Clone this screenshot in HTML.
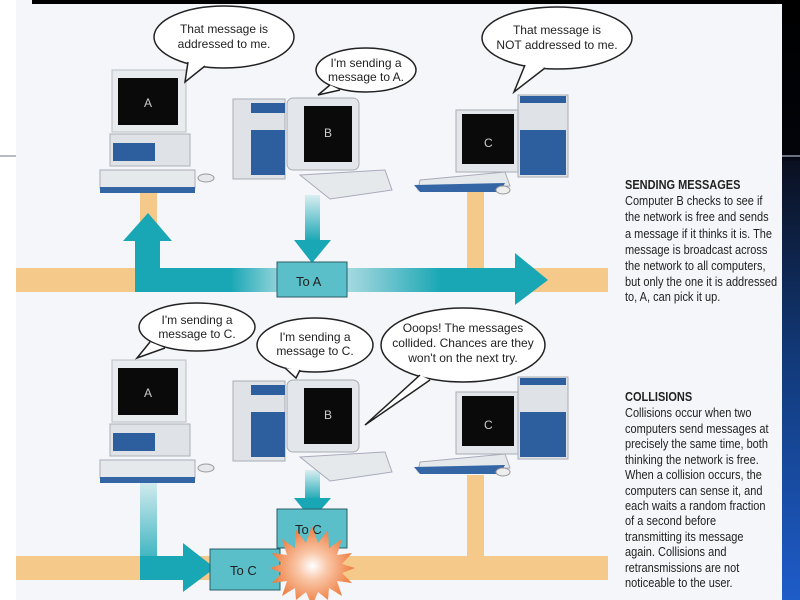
<!DOCTYPE html>
<html><head><meta charset="utf-8"><style>
html,body{margin:0;padding:0;background:#fff}
svg{display:block}
text{font-family:"Liberation Sans",sans-serif;fill:#222}
</style></head><body>
<svg width="800" height="600" viewBox="0 0 800 600" xmlns="http://www.w3.org/2000/svg">
<defs>
<linearGradient id="side" x1="0" y1="0" x2="0" y2="1">
<stop offset="0" stop-color="#000"/><stop offset="0.26" stop-color="#02040a"/><stop offset="0.27" stop-color="#0a1020"/><stop offset="0.6" stop-color="#123a7a"/><stop offset="1" stop-color="#1e5cc8"/></linearGradient>
<linearGradient id="hfade" x1="0" y1="0" x2="1" y2="0">
<stop offset="0" stop-color="#1aa7b5"/><stop offset="0.25" stop-color="#1aa7b5"/><stop offset="0.45" stop-color="#d9eef1"/><stop offset="0.6" stop-color="#8fd0d8"/><stop offset="0.8" stop-color="#1aa7b5"/><stop offset="1" stop-color="#1aa7b5"/></linearGradient>
<linearGradient id="vfade" x1="0" y1="0" x2="0" y2="1">
<stop offset="0" stop-color="#d9eef1"/><stop offset="1" stop-color="#1aa7b5"/></linearGradient>
<radialGradient id="burst"><stop offset="0" stop-color="#fff"/><stop offset="0.35" stop-color="#f9c7a8"/><stop offset="1" stop-color="#ee7a3c"/></radialGradient>
<g id="compA">
<rect x="112" y="70" width="74" height="62" fill="#e9ecef" stroke="#b9bec4"/>
<rect x="118" y="78" width="60" height="47" fill="#0a0a0a"/>
<text x="144" y="107" font-size="12" style="fill:#ccc">A</text>
<rect x="110" y="134" width="80" height="32" fill="#dfe3e8" stroke="#aab0b6"/>
<rect x="113" y="143" width="42" height="18" fill="#2d5e9e"/>
<rect x="100" y="170" width="95" height="18" fill="#e6e9ec" stroke="#aab"/>
<rect x="100" y="187" width="95" height="6" fill="#3466a6"/>
<ellipse cx="206" cy="178" rx="8" ry="4" fill="#e6e9ec" stroke="#999"/>
</g>
<g id="compB">
<rect x="233" y="99" width="52" height="80" fill="#dfe3e8" stroke="#a8aeb4"/>
<rect x="251" y="103" width="34" height="10" fill="#2d5e9e"/>
<rect x="251" y="130" width="34" height="45" fill="#2d5e9e"/>
<rect x="287" y="98" width="72" height="72" rx="6" fill="#e3e6ea" stroke="#a8aeb4"/>
<rect x="304" y="106" width="48" height="56" fill="#0a0a0a"/>
<text x="324" y="137" font-size="12" style="fill:#ccc">B</text>
<polygon points="300,175 385,170 392,190 330,199" fill="#e6e9ec" stroke="#aab"/>
</g>
<g id="compC">
<rect x="518" y="95" width="50" height="82" fill="#dfe3e8" stroke="#a8aeb4"/>
<rect x="520" y="96" width="46" height="7" fill="#2d5e9e"/>
<rect x="520" y="130" width="46" height="45" fill="#2d5e9e"/>
<rect x="456" y="110" width="62" height="62" fill="#e3e6ea" stroke="#a8aeb4"/>
<rect x="462" y="114" width="52" height="50" fill="#0a0a0a"/>
<text x="484" y="147" font-size="12" style="fill:#ccc">C</text>
<polygon points="420,180 505,172 510,186 418,190" fill="#e6e9ec" stroke="#aab"/>
<polygon points="414,185 505,183 500,192 420,192" fill="#3466a6"/>
<ellipse cx="503" cy="190" rx="7" ry="4" fill="#eee" stroke="#999"/>
</g>
</defs>
<rect x="16" y="0" width="766" height="600" fill="#f5f6fa"/>
<rect x="32" y="0" width="750" height="4" fill="#000"/>
<rect x="782" y="0" width="18" height="600" fill="url(#side)"/>
<rect x="0" y="155" width="16" height="2" fill="#b8bcc4"/>
<rect x="782" y="155" width="18" height="2" fill="#6a7080"/>

<rect x="16" y="268" width="592" height="24" fill="#f4c98a"/>
<rect x="140" y="193" width="17" height="76" fill="#f4c98a"/>
<rect x="467" y="190" width="17" height="79" fill="#f4c98a"/>
<rect x="135" y="268" width="382" height="24" fill="url(#hfade)"/>
<polygon points="515,253 548,280 515,305" fill="#1aa7b5"/>
<rect x="135" y="240" width="25" height="30" fill="#1aa7b5"/>
<polygon points="123,241 148,213 172,241" fill="#1aa7b5"/>
<rect x="305" y="195" width="15" height="46" fill="url(#vfade)"/>
<polygon points="294,240 331,240 312,263" fill="#1aa7b5"/>
<rect x="277" y="262" width="70" height="35" fill="#5bbfc9" stroke="#2a5d66"/>
<text x="296" y="286" font-size="13">To A</text>
<use href="#compA"/><use href="#compB"/><use href="#compC"/>

<g fill="#fff" stroke="#222" stroke-width="1.5">
<ellipse cx="224" cy="37" rx="70" ry="31"/>
<path d="M188,62 L185,82 L205,66" fill="#fff"/>
<ellipse cx="366" cy="70" rx="50" ry="22"/>
<path d="M330,85 L318,95 L340,90" fill="#fff"/>
<ellipse cx="557" cy="38" rx="75" ry="31"/>
<path d="M525,65 L514,92 L545,68" fill="#fff"/>
</g>
<g font-size="12" text-anchor="middle">
<text x="224" y="33">That message is</text><text x="224" y="48">addressed to me.</text>
<text x="366" y="67">I'm sending a</text><text x="366" y="81">message to A.</text>
<text x="557" y="34">That message is</text><text x="557" y="49">NOT addressed to me.</text>
</g>

<rect x="16" y="556" width="592" height="24" fill="#f4c98a"/>
<rect x="467" y="475" width="17" height="82" fill="#f4c98a"/>
<rect x="140" y="478" width="17" height="100" fill="url(#vfade)"/>
<rect x="140" y="556" width="45" height="24" fill="#1aa7b5"/>
<polygon points="183,543 215,568 183,592" fill="#1aa7b5"/>
<rect x="305" y="470" width="15" height="30" fill="url(#vfade)"/>
<polygon points="294,498 331,498 312,520" fill="#1aa7b5"/>
<rect x="277" y="509" width="70" height="39" fill="#5bbfc9" stroke="#2a5d66"/>
<text x="295" y="534" font-size="13">To C</text>
<rect x="210" y="549" width="70" height="41" fill="#5bbfc9" stroke="#2a5d66"/>
<text x="230" y="575" font-size="13">To C</text>
<polygon fill="url(#burst)" points="312,526 318,543 328,530 329,548 342,539 337,555 352,553 342,564 355,568 342,573 352,583 337,581 342,596 329,588 328,600 318,592 312,606 306,592 296,600 295,588 282,596 287,581 272,583 282,573 270,568 282,564 272,553 287,555 282,539 295,548 296,530 306,543"/>
<g transform="translate(0,290)"><use href="#compA"/></g>
<g transform="translate(0,282)"><use href="#compB"/><use href="#compC"/></g>
<g fill="#fff" stroke="#222" stroke-width="1.5">
<ellipse cx="197" cy="327" rx="58" ry="24"/>
<path d="M150,342 L137,358 L165,348" fill="#fff"/>
<ellipse cx="315" cy="345" rx="58" ry="27"/>
<path d="M285,368 L296,378 L300,370" fill="#fff"/>
<ellipse cx="463" cy="345" rx="82" ry="37"/>
<path d="M420,375 L365,425 L430,380" fill="#fff"/>
</g>
<g font-size="12" text-anchor="middle">
<text x="197" y="324">I'm sending a</text><text x="197" y="338">message to C.</text>
<text x="315" y="341">I'm sending a</text><text x="315" y="355">message to C.</text>
<text x="463" y="332">Ooops! The messages</text><text x="463" y="347">collided. Chances are they</text><text x="463" y="362">won't on the next try.</text>
</g>

<g font-size="12.5" transform="translate(625,0) scale(0.88,1)">
<text x="0" y="189" font-weight="bold">SENDING MESSAGES</text>
<text x="0" y="205">Computer B checks to see if</text>
<text x="0" y="221">the network is free and sends</text>
<text x="0" y="238">a message if it thinks it is. The</text>
<text x="0" y="254">message is broadcast across</text>
<text x="0" y="270">the network to all computers,</text>
<text x="0" y="286">but only the one it is addressed</text>
<text x="0" y="301">to, A, can pick it up.</text>
<text x="0" y="401" font-weight="bold">COLLISIONS</text>
<text x="0" y="417">Collisions occur when two</text>
<text x="0" y="433">computers send messages at</text>
<text x="0" y="448">precisely the same time, both</text>
<text x="0" y="464">thinking the network is free.</text>
<text x="0" y="479">When a collision occurs, the</text>
<text x="0" y="495">computers can sense it, and</text>
<text x="0" y="510">each waits a random fraction</text>
<text x="0" y="525">of a second before</text>
<text x="0" y="541">transmitting its message</text>
<text x="0" y="556">again. Collisions and</text>
<text x="0" y="572">retransmissions are not</text>
<text x="0" y="587">noticeable to the user.</text>
</g>
</svg>
</body></html>
